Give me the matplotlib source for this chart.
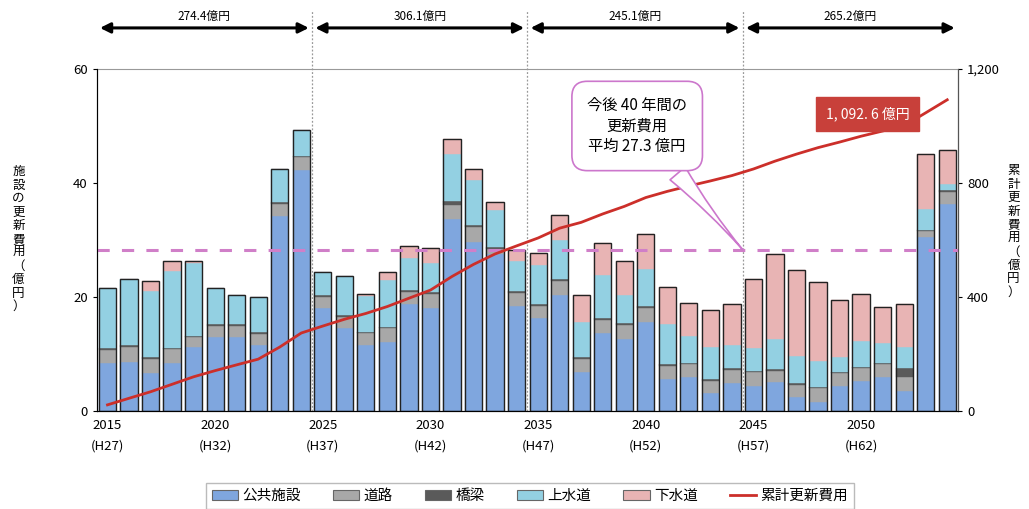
import numpy as np
import matplotlib
matplotlib.use("Agg")
import matplotlib.pyplot as plt
from matplotlib.patches import Patch
from matplotlib.lines import Line2D

plt.rcParams['font.family'] = ['Noto Sans CJK JP', 'DejaVu Sans']

# 年度 (2015〜2054)
years = list(range(2015, 2055))

# 各分野の更新費用（億円）
public = [8.5, 8.6, 6.6, 8.4, 11.2, 12.9, 12.9, 11.5, 34.2, 42.3,
          18.0, 14.5, 11.5, 12.1, 18.7, 18.0, 33.7, 29.6, 27.5, 18.4,
          16.4, 20.4, 6.8, 13.6, 12.6, 15.7, 5.6, 5.9, 3.1, 5.0,
          4.4, 5.1, 2.5, 1.6, 4.4, 5.3, 5.9, 3.5, 30.6, 36.3]
road = [2.2, 2.6, 2.6, 2.4, 1.7, 2.0, 2.1, 2.0, 2.2, 2.2,
        2.0, 2.0, 2.1, 2.4, 2.2, 2.6, 2.5, 2.6, 1.0, 2.3,
        2.1, 2.4, 2.3, 2.4, 2.5, 2.4, 2.3, 2.3, 2.2, 2.2,
        2.4, 2.0, 2.1, 2.4, 2.2, 2.2, 2.3, 2.5, 0.9, 2.2]
bridge = [0.3, 0.3, 0.3, 0.3, 0.3, 0.3, 0.3, 0.3, 0.3, 0.3,
          0.3, 0.3, 0.3, 0.3, 0.3, 0.3, 0.7, 0.5, 0.3, 0.3,
          0.3, 0.3, 0.3, 0.3, 0.3, 0.3, 0.3, 0.3, 0.3, 0.3,
          0.3, 0.3, 0.3, 0.3, 0.3, 0.3, 0.3, 1.5, 0.3, 0.3]
water = [10.6, 11.6, 11.5, 13.4, 12.8, 6.4, 5.0, 6.2, 5.7, 4.5,
         4.1, 6.9, 6.2, 8.1, 5.7, 5.0, 8.1, 7.8, 6.5, 5.3,
         6.8, 6.9, 6.3, 7.6, 5.0, 6.5, 7.1, 4.7, 5.7, 4.1,
         3.9, 5.2, 4.8, 4.5, 2.5, 4.4, 3.4, 3.8, 3.6, 1.1]
sewer = [0.0, 0.0, 1.8, 1.8, 0.3, 0.0, 0.0, 0.0, 0.0, 0.0,
         0.0, 0.0, 0.4, 1.5, 2.1, 2.7, 2.7, 1.9, 1.3, 2.0,
         2.2, 4.4, 4.7, 5.6, 6.0, 6.2, 6.4, 5.7, 6.4, 7.2,
         12.1, 14.9, 15.0, 13.9, 10.1, 8.4, 6.3, 7.5, 9.7, 5.8]

series_names = ['公共施設', '道路', '橋梁', '上水道', '下水道']
series_colors = ['#7fa6de', '#a8a8a8', '#5a5a5a', '#93d0e2', '#e8b4b4']

# 10年ごとの合計
period_labels = ['274.4億円', '306.1億円', '245.1億円', '265.2億円']
period_edges = [2015, 2025, 2035, 2045, 2055]

avg_level = 28.3          # 平均線
avg_text = '今後 40 年間の\n更新費用\n平均 27.3 億円'
total_text = '1, 092. 6 億円'

tick_years = [2015, 2020, 2025, 2030, 2035, 2040, 2045, 2050]
tick_labels = ['2015\n(H27)', '2020\n(H32)', '2025\n(H37)', '2030\n(H42)',
               '2035\n(H47)', '2040\n(H52)', '2045\n(H57)', '2050\n(H62)']

x = np.arange(len(years))
stack = [public, road, bridge, water, sewer]
totals = np.sum(np.array(stack), axis=0)
cumulative = np.cumsum(totals)

fig = plt.figure(figsize=(10.29, 5.09), dpi=100)
ax = fig.add_axes([0.094, 0.1925, 0.837, 0.672])

bottom = np.zeros(len(years))
for vals, col in zip(stack, series_colors):
    ax.bar(x, vals, 0.8, bottom=bottom, color=col, edgecolor=col, linewidth=0.3, zorder=2)
    bottom += np.array(vals)
ax.bar(x, totals, 0.8, fill=False, edgecolor='#222222', linewidth=1.0, zorder=3)

ax.set_xlim(-0.5, len(years) - 0.5)
ax.set_ylim(0, 60)
ax.set_yticks([0, 20, 40, 60])
ax.set_xticks([years.index(y) for y in tick_years])
ax.set_xticklabels(tick_labels, fontsize=9.5, linespacing=1.7)
ax.tick_params(axis='x', length=0, pad=6)
ax.tick_params(axis='y', labelsize=9.5, length=3)
for s in ['left', 'bottom']:
    ax.spines[s].set_color('#333333')
ax.spines['top'].set_color('#999999')
ax.spines['top'].set_linewidth(0.8)

ax.axhline(avg_level, color='#d07fc8', linestyle=(0, (4, 4)), linewidth=2.2, zorder=4)

# 10年区切りの縦線と矢印
for e in period_edges[1:-1]:
    ax.axvline(years.index(e) - 0.5, ymin=0, ymax=1.17, color='#999999',
               linestyle=(0, (1.5, 1.5)), linewidth=0.9, clip_on=False, zorder=1)
for i, lab in enumerate(period_labels):
    a = period_edges[i] - years[0] - 0.5
    b = period_edges[i + 1] - years[0] - 0.5
    ax.annotate('', xy=(b - 0.15, 1.12), xytext=(a + 0.15, 1.12),
                xycoords=('data', 'axes fraction'), annotation_clip=False,
                arrowprops=dict(arrowstyle='<|-|>,head_length=0.6,head_width=0.3',
                                color='black', lw=2.2, shrinkA=0, shrinkB=0))
    ax.text((a + b) / 2, 1.135, lab, transform=ax.get_xaxis_transform(),
            ha='center', va='bottom', fontsize=8.5)

fig.text(0.018, 0.53, '\n'.join('施設の更新費用（億円）'), fontsize=9,
         linespacing=1.05, va='center', ha='center')

ax2 = ax.twinx()
ax2.plot(x, cumulative, color='#cc2f2a', linewidth=2, zorder=5)
ax2.set_ylim(0, 1200)
ax2.set_yticks([0, 400, 800, 1200])
ax2.set_yticklabels(['0', '400', '800', '1,200'])
ax2.tick_params(axis='y', labelsize=9.5, length=3)
ax2.spines['right'].set_color('#555555')
ax2.spines['top'].set_visible(False)
fig.text(0.985, 0.545, '\n'.join('累計更新費用（億円）'), fontsize=9,
         linespacing=1.05, va='center', ha='center')

ax2.text(35.3, 1042, total_text, color='white', fontsize=10, ha='center', va='center',
         bbox=dict(boxstyle='square,pad=0.7', fc='#c8403a', ec='#c8403a'), zorder=6)

ax2.annotate(avg_text, xy=(29.5, avg_level * 20), xytext=(24.6, 1000),
             ha='center', va='center', fontsize=11, linespacing=1.3, zorder=7,
             bbox=dict(boxstyle='round,pad=1.0', fc='white', ec='#cc77cc', lw=1.2),
             arrowprops=dict(arrowstyle='wedge,tail_width=1.3,shrink_factor=0.3',
                             fc='white', ec='#cc77cc', lw=1.2, shrinkB=0))

handles = [Patch(facecolor=c, edgecolor='#666666', linewidth=0.8) for c in series_colors]
handles.append(Line2D([0], [0], color='#cc2f2a', lw=2))
fig.legend(handles, series_names + ['累計更新費用'], ncol=6, loc='lower center',
           bbox_to_anchor=(0.515, -0.005), fontsize=10.5, frameon=True, fancybox=False,
           edgecolor='#aaaaaa', handlelength=1.8, handletextpad=0.3, columnspacing=2.2,
           borderpad=0.4, borderaxespad=0.2)

fig.savefig('out.png', dpi=100)
